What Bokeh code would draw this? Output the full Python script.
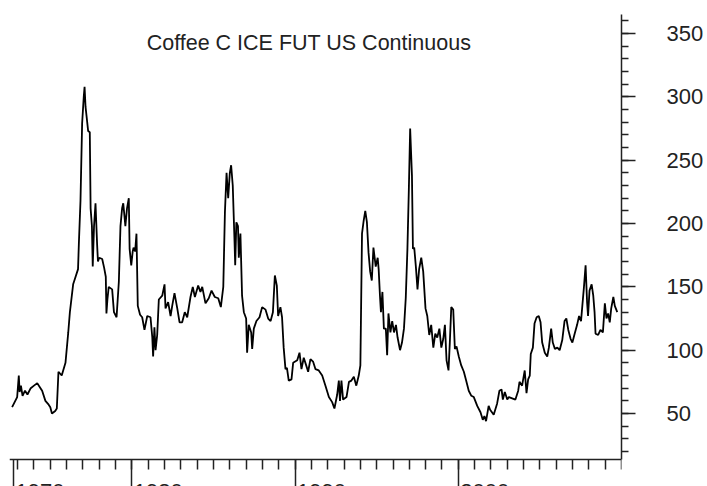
from bokeh.plotting import figure
from bokeh.models import Range1d, FixedTicker, Label, CustomLabelingPolicy
from bokeh.core.properties import value
from bokeh.embed import file_html
from bokeh.resources import INLINE

title_text = "Coffee C ICE FUT US Continuous"

years = [
    1972.66, 1972.97, 1973.07, 1973.12, 1973.2, 1973.3, 1973.45, 1973.6, 1973.8, 1974.0,
    1974.2, 1974.35, 1974.5, 1974.7, 1974.9, 1975.0, 1975.1, 1975.3, 1975.4, 1975.5,
    1975.7, 1975.93, 1976.1, 1976.2, 1976.4, 1976.5, 1976.7, 1976.75, 1976.85, 1976.95,
    1977.05, 1977.1, 1977.16, 1977.22, 1977.32, 1977.42, 1977.47, 1977.55, 1977.6, 1977.68,
    1977.77, 1977.87, 1977.92, 1978.0, 1978.18, 1978.3, 1978.4, 1978.44, 1978.5, 1978.58,
    1978.79, 1978.9, 1979.06, 1979.2, 1979.3, 1979.4, 1979.47, 1979.55, 1979.6, 1979.7,
    1979.81, 1979.86, 1979.96, 1980.05, 1980.1, 1980.2, 1980.28, 1980.36, 1980.5, 1980.63,
    1980.77, 1980.94, 1981.14, 1981.25, 1981.3, 1981.38, 1981.45, 1981.55, 1981.65, 1981.86,
    1982.0, 1982.06, 1982.22, 1982.37, 1982.47, 1982.61, 1982.78, 1982.92, 1983.08, 1983.24,
    1983.39, 1983.59, 1983.73, 1983.86, 1984.06, 1984.2, 1984.31, 1984.51, 1984.71, 1984.88,
    1985.08, 1985.29, 1985.45, 1985.6, 1985.7, 1985.8, 1985.9, 1986.0, 1986.08, 1986.18,
    1986.29, 1986.33, 1986.4, 1986.5, 1986.55, 1986.65, 1986.75, 1986.86, 1987.0, 1987.06,
    1987.16, 1987.31, 1987.37, 1987.47, 1987.63, 1987.82, 1987.98, 1988.19, 1988.35, 1988.5,
    1988.64, 1988.76, 1988.88, 1988.96, 1989.1, 1989.2, 1989.3, 1989.41, 1989.5, 1989.61,
    1989.78, 1989.88, 1990.13, 1990.27, 1990.39, 1990.53, 1990.68, 1990.8, 1990.94, 1991.1,
    1991.25, 1991.45, 1991.66, 1991.86, 1992.07, 1992.27, 1992.41, 1992.58, 1992.68, 1992.75,
    1992.84, 1992.94, 1993.15, 1993.3, 1993.45, 1993.6, 1993.75, 1993.9, 1994.0, 1994.1,
    1994.2, 1994.3, 1994.4, 1994.5, 1994.6, 1994.7, 1994.8, 1994.94, 1995.06, 1995.12,
    1995.2, 1995.26, 1995.35, 1995.44, 1995.56, 1995.64, 1995.72, 1995.84, 1995.95, 1996.06,
    1996.18, 1996.28, 1996.43, 1996.55, 1996.67, 1996.78, 1996.88, 1996.97, 1997.05, 1997.16,
    1997.22, 1997.3, 1997.4, 1997.5, 1997.6, 1997.73, 1997.85, 1997.99, 1998.1, 1998.22,
    1998.34, 1998.47, 1998.59, 1998.71, 1998.84, 1998.96, 1999.08, 1999.18, 1999.28, 1999.4,
    1999.48, 1999.57, 1999.69, 1999.79, 1999.89, 2000.03, 2000.18, 2000.34, 2000.48, 2000.64,
    2000.8, 2000.95, 2001.16, 2001.36, 2001.5, 2001.6, 2001.7, 2001.86, 2001.95, 2002.17,
    2002.38, 2002.52, 2002.65, 2002.73, 2002.85, 2003.0, 2003.1, 2003.3, 2003.5, 2003.67,
    2003.75, 2003.91, 2004.07, 2004.18, 2004.28, 2004.38, 2004.44, 2004.57, 2004.67, 2004.8,
    2004.93, 2005.04, 2005.14, 2005.3, 2005.45, 2005.55, 2005.69, 2005.79, 2005.92, 2006.07,
    2006.21, 2006.37, 2006.51, 2006.62, 2006.74, 2006.88, 2006.99, 2007.13, 2007.28, 2007.4,
    2007.52, 2007.6, 2007.7, 2007.8, 2007.89, 2007.95, 2008.04, 2008.17, 2008.27, 2008.35,
    2008.41, 2008.57, 2008.71, 2008.86, 2008.98, 2009.08, 2009.18, 2009.28, 2009.37, 2009.5,
    2009.59, 2009.74,
]

prices = [
    55, 63, 80, 67, 72, 64, 68, 65, 70, 72,
    74, 71, 68, 60, 57, 55, 50, 52, 54, 83,
    80, 90, 114, 130, 152, 156, 164, 184, 218, 279,
    300, 308, 292, 285, 273, 272, 212, 198, 166, 198,
    216, 183, 170, 173, 172, 165, 158, 129, 140, 150,
    148, 130, 126, 154, 198, 212, 216, 205, 198, 212,
    220, 180, 167, 178, 181, 178, 192, 135, 128, 126,
    116, 127, 126, 110, 95, 118, 100, 112, 140, 143,
    152, 133, 138, 127, 135, 145, 133, 122, 122, 130,
    126, 142, 150, 142, 151, 146, 150, 137, 141, 147,
    142, 141, 134, 150, 209, 240, 220, 240, 246, 230,
    185, 167, 201, 198, 173, 192, 143, 130, 125, 98,
    120, 114, 101, 117, 123, 126, 134, 132, 125, 123,
    130, 159, 151, 127, 134, 126, 102, 85, 86, 76,
    77, 90, 92, 98, 85, 94, 88, 83, 93, 91,
    85, 84, 80, 72, 63, 59, 54, 65, 76, 60,
    76, 61, 63, 75, 76, 79, 72, 80, 88, 192,
    202, 210, 201, 177, 162, 155, 181, 166, 173, 164,
    143, 130, 146, 117, 117, 96, 129, 114, 123, 114,
    120, 110, 100, 106, 117, 141, 179, 227, 275, 238,
    180, 181, 166, 148, 164, 173, 162, 133, 127, 112,
    120, 102, 113, 110, 117, 102, 109, 120, 92, 84,
    106, 134, 132, 101, 103, 95, 88, 83, 76, 68,
    64, 63, 56, 51, 45, 48, 44, 56, 53, 49,
    58, 68, 69, 61, 67, 61, 63, 62, 61, 68,
    75, 72, 84, 66, 77, 80, 97, 102, 121, 126,
    127, 122, 106, 98, 95, 102, 117, 106, 101, 102,
    100, 108, 123, 125, 116, 109, 106, 113, 120, 127,
    123, 135, 150, 167, 138, 127, 147, 152, 143, 130,
    113, 112, 116, 114, 137, 125, 129, 122, 133, 142,
    135, 130,
]

year_ticks = [1972.75, 1980, 1990, 2000]
year_labels = ["1970", "1980", "1990", "2000"]
year_minor = list(range(1973, 2011))

price_ticks = [50, 100, 150, 200, 250, 300, 350]
price_minor = list(range(20, 361, 10))

INK = "#222222"
FONT = "Liberation Sans"

X0, X1 = 1972.5, 2010.0      # horizontal extent of the axes
Y_AXIS_LO, Y_HI = 13.7, 365  # value where the time axis sits, top of the price axis
Y_LO = -7.61                 # plot area runs on to the bottom edge of the picture

p = figure(
    width=707, height=486,
    x_range=Range1d(X0, X1), y_range=Range1d(Y_LO, Y_HI),
    x_axis_location="above", y_axis_location="right",
    toolbar_location=None, output_backend="svg", title=None,
    min_border_left=9, min_border_top=14, min_border_right=86, min_border_bottom=0,
)
p.outline_line_color = None
p.xgrid.visible = False
p.ygrid.visible = False
p.background_fill_color = "white"
p.border_fill_color = "white"

p.line(years, prices, line_color="black", line_width=1.8)

# time axis: drawn at the bottom of the price scale, ticks hanging downwards
xa = p.xaxis[0]
xa.fixed_location = Y_AXIS_LO
xa.ticker = FixedTicker(ticks=year_ticks, minor_ticks=year_minor)
xa.major_tick_out = 0
xa.major_tick_in = 27
xa.minor_tick_out = 0
xa.minor_tick_in = 10
xa.major_label_text_font_size = "0px"
xa.major_label_standoff = 0
xa.major_label_policy = CustomLabelingPolicy(code="return new Set()")
xa.axis_line_color = INK
xa.axis_line_width = 1.5
xa.major_tick_line_color = INK
xa.major_tick_line_width = 1.5
xa.minor_tick_line_color = INK
xa.minor_tick_line_width = 1.5

ya = p.yaxis[0]
ya.bounds = (Y_AXIS_LO, Y_HI)
ya.ticker = FixedTicker(ticks=price_ticks, minor_ticks=price_minor)
ya.major_tick_out = 14
ya.major_tick_in = 0
ya.minor_tick_out = 7
ya.minor_tick_in = 0
ya.major_label_standoff = 31
ya.major_label_text_font = FONT
ya.major_label_text_font_size = "22px"
ya.major_label_text_color = INK
ya.axis_line_color = INK
ya.axis_line_width = 1.5
ya.major_tick_line_color = INK
ya.major_tick_line_width = 1.5
ya.minor_tick_line_color = INK
ya.minor_tick_line_width = 1.5

# year labels: to the right of each long tick, partly below the picture edge
p.text(x=[t + 0.12 for t in year_ticks], y=[-11.4] * len(year_ticks), text=year_labels,
       text_align="left", text_baseline="alphabetic", text_font=value(FONT),
       text_font_size="22px", text_color=INK)

p.add_layout(Label(x=1990.85, y=342.7, text=title_text, text_align="center",
                   text_baseline="alphabetic", text_font=FONT,
                   text_font_size="21.5px", text_color=INK))

open("out.html", "w").write(file_html(p, INLINE))
